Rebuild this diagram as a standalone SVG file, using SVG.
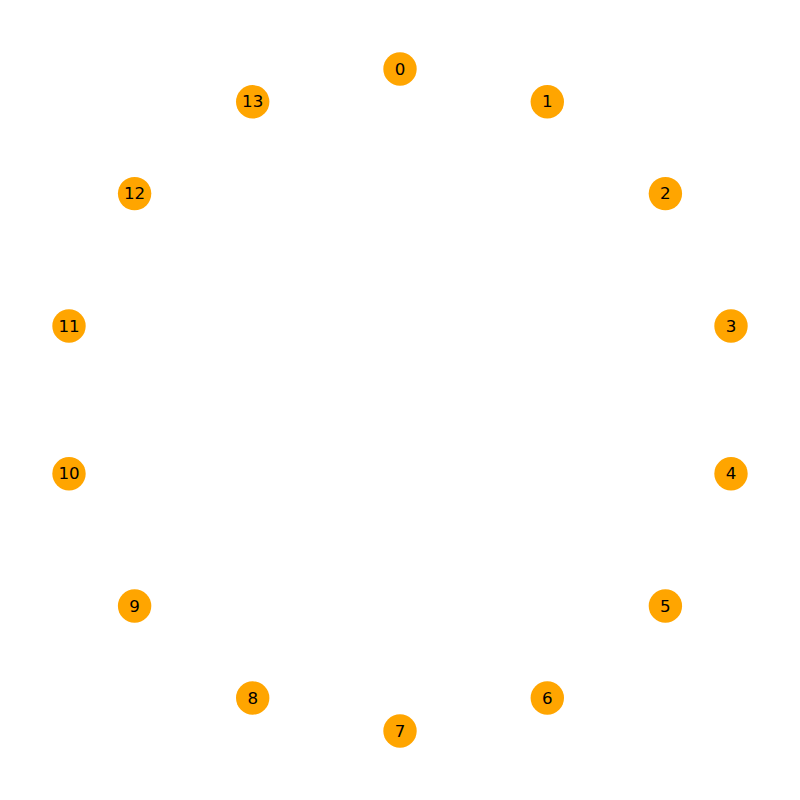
<svg xmlns="http://www.w3.org/2000/svg" width="800" height="800" viewBox="0 0 800 800">
<style>
.n circle{fill:#FFA500}
.n text{font-family:"DejaVu Sans",sans-serif;font-size:16.67px;fill:#000;text-anchor:middle;dominant-baseline:central}
</style>
<rect width="800" height="800" fill="#fff"/>
<g id="edges"></g>
<g id="n0" class="n"><circle cx="400" cy="69" r="16.7"/><text x="400" y="69">0</text></g>
<g id="n1" class="n"><circle cx="547.3" cy="101.8" r="16.7"/><text x="547.3" y="101.8">1</text></g>
<g id="n2" class="n"><circle cx="665.4" cy="193.6" r="16.7"/><text x="665.4" y="193.6">2</text></g>
<g id="n3" class="n"><circle cx="731" cy="326" r="16.7"/><text x="731" y="326">3</text></g>
<g id="n4" class="n"><circle cx="731" cy="473.7" r="16.7"/><text x="731" y="473.7">4</text></g>
<g id="n5" class="n"><circle cx="665.4" cy="606" r="16.7"/><text x="665.4" y="606">5</text></g>
<g id="n6" class="n"><circle cx="547.3" cy="698" r="16.7"/><text x="547.3" y="698">6</text></g>
<g id="n7" class="n"><circle cx="400" cy="731" r="16.7"/><text x="400" y="731">7</text></g>
<g id="n8" class="n"><circle cx="252.7" cy="698" r="16.7"/><text x="252.7" y="698">8</text></g>
<g id="n9" class="n"><circle cx="134.6" cy="606" r="16.7"/><text x="134.6" y="606">9</text></g>
<g id="n10" class="n"><circle cx="69" cy="473.7" r="16.7"/><text x="69" y="473.7">10</text></g>
<g id="n11" class="n"><circle cx="69" cy="326" r="16.7"/><text x="69" y="326">11</text></g>
<g id="n12" class="n"><circle cx="134.6" cy="193.6" r="16.7"/><text x="134.6" y="193.6">12</text></g>
<g id="n13" class="n"><circle cx="252.7" cy="101.8" r="16.7"/><text x="252.7" y="101.8">13</text></g>
</svg>
